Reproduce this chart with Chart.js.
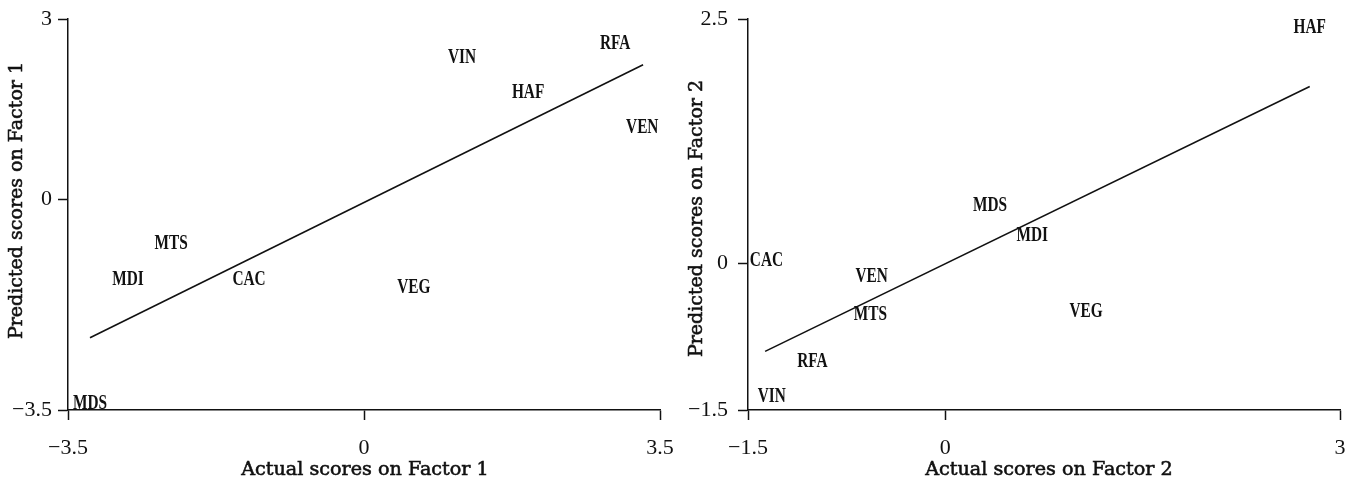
<!DOCTYPE html>
<html>
<head>
<meta charset="utf-8">
<script src="https://cdn.jsdelivr.net/npm/chart.js@4/dist/chart.umd.min.js"></script>
<style>
  html, body { margin: 0; padding: 0; background: #fff; }
  #wrap { position: relative; width: 1353px; height: 483px; overflow: hidden; }
  .panel { position: absolute; top: 0; height: 483px; }
</style>
</head>
<body>
<div id="wrap">
  <div class="panel" style="left:0;width:680px"><canvas id="c1" width="680" height="483"></canvas></div>
  <div class="panel" style="left:680px;width:673px"><canvas id="c2" width="673" height="483"></canvas></div>
</div>
<script>
// ---- data ----
const categories = ['CAC', 'HAF', 'MDI', 'MDS', 'MTS', 'RFA', 'VEG', 'VEN', 'VIN'];

// Factor 1
const actual1    = [-1.36, 1.94, -2.79, -3.24, -2.28, 2.97, 0.59, 3.29, 1.16];
const predicted1 = [-1.32, 1.79, -1.32, -3.37, -0.72, 2.60, -1.44, 1.21, 2.37];
const fitX1 = [-3.24, 3.30];
const fitY1 = [-2.30, 2.24];
const xTicks1 = [-3.5, 0, 3.5];
const xTickLabels1 = ['\u22123.5', '0', '3.5'];
const yTicks1 = [-3.5, 0, 3];
const yTickLabels1 = ['\u22123.5', '0', '3'];

// Factor 2
const actual2    = [-1.36, 2.77, 0.66, 0.34, -0.57, -1.01, 1.07, -0.56, -1.32];
const predicted2 = [0.04, 2.42, 0.29, 0.60, -0.51, -0.99, -0.48, -0.12, -1.35];
const fitX2 = [-1.37, 2.77];
const fitY2 = [-0.90, 1.81];
const xTicks2 = [-1.5, 0, 3];
const xTickLabels2 = ['\u22121.5', '0', '3'];
const yTicks2 = [-1.5, 0, 2.5];
const yTickLabels2 = ['\u22121.5', '0', '2.5'];

const xTitle1 = 'Actual scores on Factor 1';
const yTitle1 = 'Predicted scores on Factor 1';
const xTitle2 = 'Actual scores on Factor 2';
const yTitle2 = 'Predicted scores on Factor 2';

// ---- rendering ----
const INK = '#111';
const tickFont = { family: '"Liberation Serif", serif', size: 22 };
const TITLE_FONT = '18px "DejaVu Serif", serif';
const TITLE_CHAR_W = 9.9;   // typewriter pitch of the axis titles

const labelPlugin = {
  id: 'pointLabels',
  afterDatasetsDraw(chart) {
    const meta = chart.getDatasetMeta(0);
    const ctx = chart.ctx;
    meta.data.forEach((pt, i) => {
      ctx.save();
      ctx.translate(pt.x, pt.y);
      ctx.scale(0.73, 1);
      ctx.font = 'bold 21px "Liberation Serif", serif';
      ctx.fillStyle = INK;
      ctx.textAlign = 'center';
      ctx.textBaseline = 'middle';
      ctx.fillText(categories[i], 0, 1);
      ctx.restore();
    });
  }
};

// axis titles drawn in a serif face fitted to a typewriter pitch
function drawTitleText(ctx, text) {
  const w = ctx.measureText(text).width;
  const target = text.length * TITLE_CHAR_W;
  ctx.scale(target / w, 1);
  ctx.fillText(text, 0, 0);
  ctx.lineWidth = 0.55;
  ctx.strokeStyle = INK;
  ctx.strokeText(text, 0, 0);
}
const titlePlugin = {
  id: 'axisTitles',
  afterDraw(chart) {
    const o = chart.options.plugins.axisTitles;
    const a = chart.chartArea;
    const ctx = chart.ctx;
    ctx.save();
    ctx.font = TITLE_FONT;
    ctx.fillStyle = INK;
    ctx.textAlign = 'center';
    ctx.textBaseline = 'middle';
    // x title
    ctx.save();
    ctx.translate((a.left + a.right) / 2 + o.xShift, a.bottom + 60);
    drawTitleText(ctx, o.x);
    ctx.restore();
    // y title
    ctx.save();
    ctx.translate(17, (a.top + a.bottom) / 2 + o.yShift);
    ctx.rotate(-Math.PI / 2);
    drawTitleText(ctx, o.y);
    ctx.restore();
    ctx.restore();
  }
};

function makeChart(id, ax, pr, fx, fy, xt, xtl, yt, ytl, xTitle, yTitle, padRight, yLabelPad, xShift, yShift) {
  const pts = ax.map((v, i) => ({ x: v, y: pr[i] }));
  const line = fx.map((v, i) => ({ x: v, y: fy[i] }));
  return new Chart(document.getElementById(id), {
    type: 'scatter',
    data: {
      datasets: [
        { data: pts, pointRadius: 0, pointHoverRadius: 0, showLine: false },
        { type: 'line', data: line, borderColor: INK, borderWidth: 1.6, pointRadius: 0, fill: false, tension: 0 }
      ]
    },
    options: {
      responsive: false,
      animation: false,
      events: [],
      layout: { padding: { top: 19, right: padRight, bottom: 0, left: 0 } },
      plugins: {
        legend: { display: false },
        tooltip: { enabled: false },
        axisTitles: { x: xTitle, y: yTitle, xShift: xShift, yShift: yShift }
      },
      scales: {
        x: {
          type: 'linear',
          min: xt[0], max: xt[xt.length - 1],
          afterBuildTicks: s => { s.ticks = xt.map(v => ({ value: v })); },
          afterFit: s => { s.height = 73; s.paddingLeft = 0; s.paddingRight = 0; },
          border: { display: true, color: INK, width: 1.5 },
          grid: { display: true, drawOnChartArea: false, drawTicks: true, tickLength: 10, tickWidth: 1.5, tickColor: INK },
          ticks: {
            color: INK, font: tickFont, padding: 15, maxRotation: 0, autoSkip: false,
            callback: (v) => { const k = xt.indexOf(v); return k >= 0 ? xtl[k] : ''; }
          },
          title: { display: false }
        },
        y: {
          type: 'linear',
          min: yt[0], max: yt[yt.length - 1],
          afterBuildTicks: s => { s.ticks = yt.map(v => ({ value: v })); },
          afterFit: s => { s.width = 68; s.paddingTop = 0; s.paddingBottom = 0; },
          border: { display: true, color: INK, width: 1.5 },
          grid: { display: true, drawOnChartArea: false, drawTicks: true, tickLength: 10, tickWidth: 1.5, tickColor: INK },
          ticks: {
            color: INK, font: tickFont, padding: yLabelPad, autoSkip: false,
            callback: (v) => { const k = yt.indexOf(v); return k >= 0 ? ytl[k] : ''; }
          },
          title: { display: false }
        }
      }
    },
    plugins: [labelPlugin, titlePlugin]
  });
}

makeChart('c1', actual1, predicted1, fitX1, fitY1, xTicks1, xTickLabels1, yTicks1, yTickLabels1, xTitle1, yTitle1, 20, 6, 1, -14);
makeChart('c2', actual2, predicted2, fitX2, fitY2, xTicks2, xTickLabels2, yTicks2, yTickLabels2, xTitle2, yTitle2, 13, 10, 5, 4);
</script>
</body>
</html>
